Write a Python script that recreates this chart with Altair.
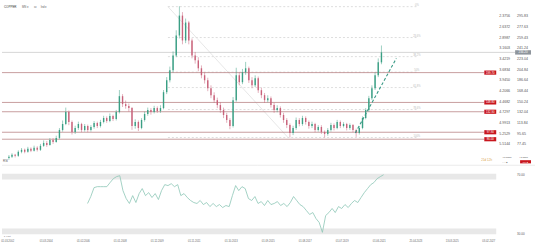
import altair as alt
import pandas as pd
import numpy as np

FONT = "Liberation Sans"

# ---------------- data ----------------
candle_start = "2002-01-01"   # two-month candles
first_open = 54.0
close = [56.0, 59.4, 57.7, 64.5, 67.9, 64.5, 69.6, 66.2, 71.3, 67.9,
         74.7, 79.7, 76.3, 84.8, 81.4, 88.2, 101.8, 112.0, 132.4, 115.4,
         98.4, 105.2, 112.0, 101.8, 108.6, 101.8, 106.9, 113.7, 108.6, 115.4,
         122.2, 117.1, 125.6, 120.5, 132.4, 159.5, 145.9, 142.6, 139.2, 108.6,
         115.4, 105.2, 118.8, 129.0, 135.8, 132.4, 139.2, 134.1, 139.2, 166.3,
         186.7, 203.7, 229.1, 263.1, 297.0, 254.6, 285.2, 254.6, 229.1, 220.6,
         207.1, 195.2, 186.7, 173.1, 161.2, 152.7, 144.3, 135.8, 127.3, 118.8,
         108.6, 152.7, 195.2, 183.3, 200.3, 207.1, 186.7, 178.2, 190.1, 169.7,
         161.2, 152.7, 156.1, 144.3, 135.8, 139.2, 127.3, 118.8, 110.3, 96.7,
         105.2, 118.8, 112.0, 122.2, 115.4, 108.6, 112.0, 101.8, 106.9, 98.4,
         95.0, 101.8, 110.3, 105.2, 115.4, 108.6, 112.0, 105.2, 110.3, 101.8,
         96.7, 105.2, 122.2, 135.8, 156.1, 173.1, 195.2, 217.2, 234.2]
high = [59, 62, 61, 67, 71, 70, 73, 72, 75, 74,
        78, 84, 83, 88, 88, 92, 105, 118, 140, 135,
        118, 109, 116, 114, 112, 111, 110, 117, 116, 119,
        126, 125, 130, 128, 136, 170, 163, 152, 147, 141,
        120, 118, 122, 133, 140, 139, 143, 142, 144, 170,
        192, 210, 236, 272, 313, 303, 292, 288, 258, 235,
        226, 212, 200, 191, 178, 166, 157, 149, 140, 131,
        122, 158, 208, 200, 206, 218, 210, 192, 195, 193,
        174, 165, 161, 159, 148, 144, 142, 131, 122, 113,
        109, 123, 122, 126, 125, 118, 116, 114, 110, 110,
        101, 105, 114, 113, 119, 118, 115, 114, 113, 112,
        104, 108, 125, 139, 160, 178, 200, 224, 246]
low = [51, 54, 55, 56, 62, 62, 63, 64, 65, 65,
       66, 73, 73, 75, 78, 80, 86, 99, 110, 110,
       94, 95, 102, 98, 99, 98, 99, 104, 105, 106,
       113, 114, 115, 117, 118, 130, 141, 138, 133, 102,
       104, 100, 103, 116, 126, 128, 130, 131, 131, 137,
       163, 183, 200, 226, 258, 248, 250, 248, 224, 215,
       202, 190, 181, 168, 156, 148, 139, 131, 122, 114,
       103, 106, 150, 178, 180, 196, 182, 173, 175, 165,
       156, 148, 149, 140, 131, 132, 123, 114, 105, 89,
       93, 102, 108, 109, 111, 104, 105, 98, 99, 95,
       89, 92, 99, 101, 103, 105, 106, 101, 102, 98,
       90, 94, 103, 120, 133, 153, 170, 192, 214]

rsi_start = "2006-05-01"
rsi = [50.6, 55.7, 62.3, 63.0, 63.0, 63.0, 63.0, 66.0, 68.9, 70.4,
       71.1, 60.1, 54.2, 50.6, 56.4, 51.3, 57.9, 61.6, 56.4, 58.6,
       55.0, 57.9, 53.5, 60.1, 64.5, 63.8, 65.2, 63.0, 64.5, 56.4,
       57.9, 55.0, 52.8, 51.3, 50.6, 52.8, 49.8, 51.3, 48.3, 50.6,
       48.3, 49.8, 47.6, 49.1, 48.3, 56.4, 63.8, 60.1, 63.0, 61.6,
       54.2, 52.8, 55.7, 50.6, 52.0, 49.1, 52.8, 49.8, 50.6, 52.0,
       49.1, 50.6, 48.3, 51.3, 55.7, 52.8, 49.8, 48.3, 45.4, 42.5,
       43.9, 39.5, 36.6, 29.3, 41.7, 43.9, 46.9, 43.9, 48.3, 46.9,
       49.8, 47.6, 50.6, 52.8, 51.3, 55.0, 58.6, 61.6, 64.5, 66.0,
       68.9, 70.4, 71.8]

level_prices = [199.7, 148.8, 132.9, 97.9, 86.0]
level_labels = ["199.70", "148.80", "132.90", "97.90", "86.00"]

last_price = [234.2]
last_label = ["234.20"]

fib_pct = ["0%", "23.6%", "38.2%", "50%", "61.8%", "78.6%", "100%"]
fib_prices = [312.3, 259.6, 227.0, 200.6, 174.2, 136.7, 88.9]
fib_start = "2010-05-25"
fib_end = "2023-07-15"
fib_diag_dates = ["2010-05-25", "2016-09-25"]
fib_diag_prices = [312.3, 88.9]

trend_dates = ["2020-04-15", "2022-06-15"]
trend_prices = [96.7, 224.0]

axis_prices = [295.83, 277.63, 259.43, 241.24, 223.04, 204.84, 186.64,
               168.44, 150.24, 132.04, 113.84, 95.65, 77.45]
axis_ratio = ["2.3756", "2.6372", "2.8987", "3.1603", "3.4219", "3.6834", "3.9450",
              "4.2066", "4.4682", "4.7297", "4.9913", "5.2529", "5.5144"]

date_ticks = ["2002-03-01", "2004-03-01", "2006-02-01", "2008-01-01", "2009-12-01",
              "2011-11-01", "2013-10-01", "2015-09-01", "2017-08-01", "2019-07-01",
              "2021-06-01", "2023-04-25", "2025-03-13", "2027-02-03"]
x_domain = ["2001-11-24", "2029-07-06"]
price_domain = [42.4, 322.5]
rsi_domain = [26.33, 76.97]

rsi_band_lo = [68.2, 27.8]
rsi_band_hi = [72.6, 32.2]
rsi_label_vals = [71.7, 28.0]
rsi_labels = ["70.00", "30.00"]

# ---------------- frames ----------------
def dt(s):
    t = pd.Timestamp(s)
    return alt.DateTime(year=t.year, month=t.month, date=t.day)

dates = pd.date_range(candle_start, periods=len(close), freq="2MS")
opens = [first_open] + close[:-1]
candles = pd.DataFrame({"date": dates, "open": opens, "close": close,
                        "high": high, "low": low})
candles["dir"] = np.where(candles["close"] >= candles["open"], "up", "down")

rsi_df = pd.DataFrame({"date": pd.date_range(rsi_start, periods=len(rsi), freq="2MS"),
                       "rsi": rsi})
levels = pd.DataFrame({"price": level_prices, "label": level_labels})
last_df = pd.DataFrame({"price": last_price, "label": last_label})
fib_df = pd.DataFrame({"price": fib_prices, "label": fib_pct,
                       "start": pd.to_datetime([fib_start] * len(fib_prices)),
                       "end": pd.to_datetime([fib_end] * len(fib_prices))})
diag_df = pd.DataFrame({"date": pd.to_datetime(fib_diag_dates), "price": fib_diag_prices})
trend_df = pd.DataFrame({"date": pd.to_datetime(trend_dates), "price": trend_prices})
ax_df = pd.DataFrame({"price": axis_prices, "ratio": axis_ratio})
band_df = pd.DataFrame({"lo": rsi_band_lo, "hi": rsi_band_hi})
rsil_df = pd.DataFrame({"v": rsi_label_vals, "label": rsi_labels})

GREEN = "#3a9f84"
RED = "#c8627a"
LEVEL = "#b98486"
TAG = "#c8161d"

xs = alt.Scale(domain=[dt(s) for s in x_domain])
ys = alt.Scale(domain=price_domain, nice=False, zero=False)
rs = alt.Scale(domain=rsi_domain, nice=False, zero=False)
color = alt.Color("dir:N", scale=alt.Scale(domain=["up", "down"], range=[GREEN, RED]), legend=None)

def txt(t, x, y, size=3.0, col="#444", align="left", weight="normal"):
    return alt.Chart(pd.DataFrame({"t": [t]})).mark_text(
        fontSize=size, color=col, align=align, baseline="middle", font=FONT, fontWeight=weight
    ).encode(x=alt.value(x), y=alt.value(y), text="t:N")

def hbar(x1, x2, y, col, w):
    return alt.Chart(pd.DataFrame({"a": [0]})).mark_rule(color=col, strokeWidth=w).encode(
        x=alt.value(x1), x2=alt.value(x2), y=alt.value(y))

# ---------------- price panel ----------------
fib_lines = alt.Chart(fib_df).mark_rule(color="#cfcfcf", strokeWidth=0.7, strokeDash=[2, 2]).encode(
    x=alt.X("start:T", scale=xs, axis=None), x2="end:T",
    y=alt.Y("price:Q", scale=ys, axis=None))
fib_txt = alt.Chart(fib_df).mark_text(fontSize=2.6, color="#bbbbbb", align="center", dy=-1.6, font=FONT).encode(
    x=alt.X("end:T", scale=xs, axis=None), y=alt.Y("price:Q", scale=ys, axis=None), text="label:N")
diag = alt.Chart(diag_df).mark_line(color="#dcdcdc", strokeWidth=0.7).encode(
    x=alt.X("date:T", scale=xs, axis=None), y=alt.Y("price:Q", scale=ys, axis=None))
level_rules = alt.Chart(levels).mark_rule(color=LEVEL, strokeWidth=0.8).encode(
    x=alt.value(0), x2=alt.value(485), y=alt.Y("price:Q", scale=ys, axis=None))
last_rule = alt.Chart(last_df).mark_rule(color="#c4c4c4", strokeWidth=0.7).encode(
    x=alt.value(0), x2=alt.value(516), y=alt.Y("price:Q", scale=ys, axis=None))
wicks = alt.Chart(candles).mark_rule(strokeWidth=0.5).encode(
    x=alt.X("date:T", scale=xs, axis=None), y=alt.Y("low:Q", scale=ys, axis=None), y2="high:Q", color=color)
bodies = alt.Chart(candles).mark_bar(size=1.4).encode(
    x=alt.X("date:T", scale=xs, axis=None), y=alt.Y("open:Q", scale=ys, axis=None), y2="close:Q", color=color)
trend = alt.Chart(trend_df).mark_line(color="#3a9a86", strokeWidth=1.1, strokeDash=[3, 2]).encode(
    x=alt.X("date:T", scale=xs, axis=None), y=alt.Y("price:Q", scale=ys, axis=None))
tag_bg = alt.Chart(levels).mark_rule(color=TAG, strokeWidth=4.2).encode(
    x=alt.value(485), x2=alt.value(497), y=alt.Y("price:Q", scale=ys, axis=None))
tag_txt = alt.Chart(levels).mark_text(fontSize=2.8, color="white", align="center", baseline="middle", font=FONT).encode(
    x=alt.value(491), y=alt.Y("price:Q", scale=ys, axis=None), text="label:N")
price_txt = alt.Chart(ax_df).mark_text(fontSize=3.6, color="#555", align="left", baseline="middle", font=FONT).encode(
    x=alt.value(518), y=alt.Y("price:Q", scale=ys, axis=None), text=alt.Text("price:Q", format=".2f"))
ratio_txt = alt.Chart(ax_df).mark_text(fontSize=3.6, color="#555", align="left", baseline="middle", font=FONT).encode(
    x=alt.value(500), y=alt.Y("price:Q", scale=ys, axis=None), text="ratio:N")
last_bg = alt.Chart(last_df).mark_rule(color="#8e959c", strokeWidth=4.4).encode(
    x=alt.value(516), x2=alt.value(532), y=alt.Y("price:Q", scale=ys, axis=None))
last_txt = alt.Chart(last_df).mark_text(fontSize=3, color="white", align="center", baseline="middle", font=FONT).encode(
    x=alt.value(524), y=alt.Y("price:Q", scale=ys, axis=None), text="label:N")

top = alt.layer(
    fib_lines, fib_txt, diag, level_rules, last_rule, wicks, bodies, trend,
    tag_bg, tag_txt, price_txt, ratio_txt, last_bg, last_txt,
    txt("COPPER", 2, 6, 3.0, "#333"),
    txt("MN ▾", 20, 6, 2.8, "#666"),
    txt("⊡", 32, 6, 3.0, "#666"),
    txt("Ind ▾", 39, 6, 2.8, "#666"),
    txt("RSI", 1, 161.5, 3.0, "#555"),
    txt("21d 12h", 482, 160, 3.0, "#d9a24a"),
    txt("+0.000%", 503, 157.5, 2.4, "#333"),
    txt("− ↕ ◆", 503, 162, 2.4, "#777"),
    txt("+1.0000", 520, 157.5, 2.4, "#333"),
    hbar(521, 532, 162, TAG, 3.2),
    txt("0.0 ▲", 526.5, 162, 2.2, "white", "center"),
    hbar(0, 536, 165.5, "#e6e6e6", 0.8),
).properties(width=536, height=165)

# ---------------- RSI panel ----------------
bands = alt.Chart(band_df).mark_rect(color="#e8e8e8").encode(
    x=alt.value(0), x2=alt.value(497), y=alt.Y("lo:Q", scale=rs, axis=None), y2="hi:Q")
rsi_line = alt.Chart(rsi_df).mark_line(color="#8cc6b6", strokeWidth=0.8).encode(
    x=alt.X("date:T", scale=xs,
            axis=alt.Axis(values=[dt(s) for s in date_ticks], format="%d.%m.%Y",
                          labelFontSize=2.6, labelColor="#666", labelFont=FONT,
                          domain=False, ticks=False, grid=False, labelPadding=3,
                          labelOverlap=False, title=None)),
    y=alt.Y("rsi:Q", scale=rs, axis=None))
rsi_lab = alt.Chart(rsil_df).mark_text(fontSize=3.0, color="#555", align="left", baseline="middle", font=FONT).encode(
    x=alt.value(518), y=alt.Y("v:Q", scale=rs, axis=None), text="label:N")

bottom = alt.layer(
    bands, rsi_line, rsi_lab,
    txt("▾ 4 szt", 2, 68.5, 2.4, "#777"),
).properties(width=536, height=69)

chart = alt.vconcat(top, bottom, spacing=2, padding=0, background="white").configure_view(stroke=None)
chart.save("out.html", embed_options={"renderer": "svg", "actions": False})
